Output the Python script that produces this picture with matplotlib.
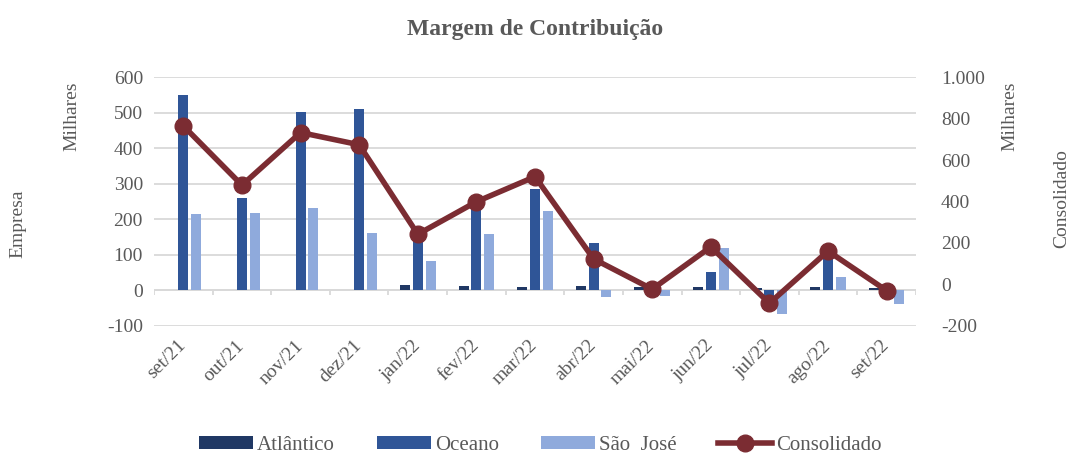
import numpy as np
import matplotlib
matplotlib.use("Agg")
import matplotlib.pyplot as plt
import matplotlib.transforms as mtransforms
from matplotlib.ticker import FuncFormatter

plt.rcParams["font.family"] = ["Liberation Serif", "DejaVu Serif"]
plt.rcParams["axes.unicode_minus"] = False

# ── data (milhares) ────────────────────────────────────────────────────────────
meses = ["set/21", "out/21", "nov/21", "dez/21", "jan/22", "fev/22", "mar/22",
         "abr/22", "mai/22", "jun/22", "jul/22", "ago/22", "set/22"]
atlantico   = [1, 0, 0, 2, 16, 12, 10, 11, 8, 9, 7, 9, 6]
oceano      = [550, 261, 501, 510, 145, 231, 285, 133, -14, 52, -31, 115, 3]
sao_jose    = [215, 217, 233, 162, 83, 158, 222, -20, -17, 119, -67, 37, -39]
consolidado = [765, 479, 733, 674, 242, 399, 520, 123, -23, 181, -91, 161, -30]

C_ATL  = "#203864"
C_OCE  = "#2F5597"
C_SJ   = "#8FAADC"
C_CONS = "#7B2C32"
GRAY   = "#595959"
GRID   = "#D9D9D9"

x = np.arange(len(meses))
w = 0.17
off = 0.218

fig = plt.figure(figsize=(10.7, 4.57), dpi=100)
ax = fig.add_axes([0.144, 0.287, 0.712, 0.544])

ax.bar(x - off, atlantico, w, color=C_ATL, label="Atlântico", zorder=3)
ax.bar(x, oceano, w, color=C_OCE, label="Oceano", zorder=3)
ax.bar(x + off, sao_jose, w, color=C_SJ, label="São  José", zorder=3)

ax.set_ylim(-100, 600)
ax.set_yticks(range(-100, 601, 100))
ax.set_xlim(-0.5, len(meses) - 0.5)
ax.yaxis.grid(True, color=GRID, linewidth=1.3)
ax.set_axisbelow(True)

# category axis crosses at zero, tick marks between categories
ax.axhline(0, color=GRID, linewidth=1.3, zorder=2)
bounds = np.arange(len(meses) + 1) - 0.5
ax.vlines(bounds, -14, 0, color=GRID, linewidth=1.3, zorder=2)

for s in ax.spines.values():
    s.set_visible(False)
ax.set_xticks(x)
ax.set_xticklabels(meses, rotation=45, ha="right", rotation_mode="anchor")
ax.tick_params(axis="x", length=0, pad=8, labelsize=14, labelcolor=GRAY)
ax.tick_params(axis="y", length=0, pad=8, labelsize=14, labelcolor=GRAY)
shift = mtransforms.ScaledTranslation(-6 / 100, 0, fig.dpi_scale_trans)
for lab in ax.get_xticklabels():
    lab.set_transform(lab.get_transform() + shift)

ax2 = ax.twinx()
ax2.plot(x, consolidado, color=C_CONS, linewidth=4, marker="o",
         markersize=12, label="Consolidado", zorder=5)
ax2.set_ylim(-200, 1000)
ax2.set_yticks(range(-200, 1001, 200))
ax2.yaxis.set_major_formatter(
    FuncFormatter(lambda v, p: f"{int(v):,}".replace(",", ".")))
for s in ax2.spines.values():
    s.set_visible(False)
ax2.tick_params(axis="y", length=0, pad=18, labelsize=14, labelcolor=GRAY)

# axis titles
fig.text(0.017, 0.51, "Empresa", rotation=90, ha="center", va="center",
         fontsize=14, color=GRAY)
fig.text(0.067, 0.745, "Milhares", rotation=90, ha="center", va="center",
         fontsize=14, color=GRAY)
fig.text(0.944, 0.745, "Milhares", rotation=90, ha="center", va="center",
         fontsize=14, color=GRAY)
fig.text(0.992, 0.565, "Consolidado", rotation=90, ha="center", va="center",
         fontsize=14, color=GRAY)

fig.text(0.5, 0.935, "Margem de Contribuição", ha="center", va="center",
         fontsize=17, fontweight="bold", color=GRAY)

h1, l1 = ax.get_legend_handles_labels()
h2, l2 = ax2.get_legend_handles_labels()
leg = fig.legend(h1 + h2, l1 + l2, loc="center", bbox_to_anchor=(0.505, 0.025),
                 ncol=4, frameon=False, fontsize=15, handlelength=2.6,
                 handleheight=0.6, columnspacing=2.0, handletextpad=0.2)
for t in leg.get_texts():
    t.set_color(GRAY)

fig.savefig("out.png", dpi=100)
